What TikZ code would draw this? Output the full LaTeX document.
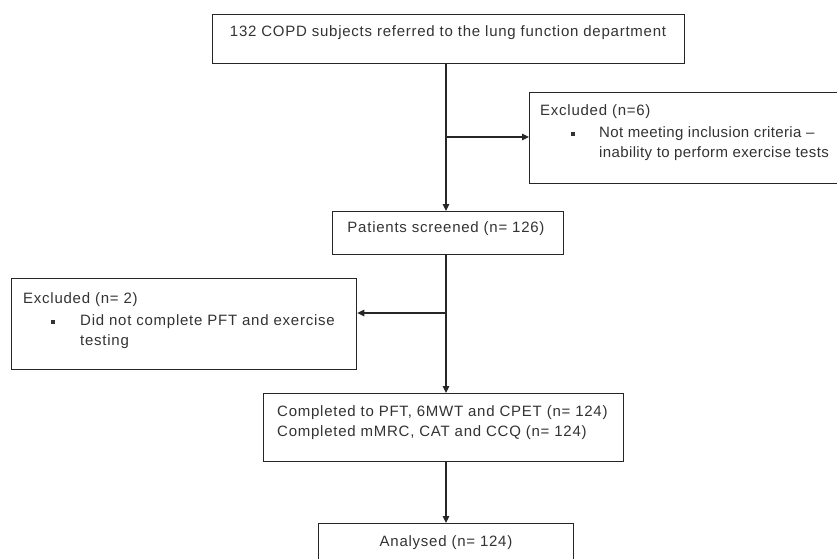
\documentclass[tikz,border=0pt]{standalone}
\usepackage{fontspec}
\setmainfont{Liberation Sans}[LetterSpace=5]
\usetikzlibrary{arrows.meta}
\definecolor{ink}{HTML}{333333}
\definecolor{edge}{HTML}{262626}
\begin{document}
\begin{tikzpicture}[x=1pt,y=-1pt,
  box/.style={draw=edge, line width=1.3pt, inner sep=0pt, anchor=north west, fill=white},
  txt/.style={inner sep=0pt, text=ink, font=\fontsize{15}{20.5}\selectfont, anchor=west},
  multi/.style={txt, align=left},
  sq/.style={fill=ink, minimum size=3.4pt, inner sep=0pt},
  conn/.style={draw=edge, line width=1.1pt},
  arr/.style={conn, -{Triangle[length=7pt,width=6.5pt]}}]
\useasboundingbox (0,0) rectangle (837,558);
\fill[white] (0,0) rectangle (837,558);
\clip (0,0) rectangle (837,558);

% boxes
\node[box, minimum width=472pt, minimum height=49pt] (top) at (212,14) {};
\node[box, minimum width=380pt, minimum height=91pt] (exc1) at (529,92) {};
\node[box, minimum width=231pt, minimum height=43pt] (pat) at (332,211) {};
\node[box, minimum width=345pt, minimum height=91pt] (exc2) at (11,278) {};
\node[box, minimum width=360pt, minimum height=68pt] (comp) at (263,393) {};
\node[box, minimum width=255pt, minimum height=60pt] (ana) at (318,523) {};

% texts
\node[txt, anchor=center] (toptxt) at (448,32.5) {132 COPD subjects referred to the lung function department};

\node[txt] (exc1h) at (540,112) {Excluded (n=6)};
\node[sq] (exc1b) at (573,134) {};
\node[multi, font=\fontsize{15}{20.5}\selectfont\addfontfeature{LetterSpace=2.5}] (exc1t) at (599,143.5) {Not meeting inclusion criteria --\\inability to perform exercise tests};

\node[txt, anchor=center] (pattxt) at (446,229) {Patients screened (n= 126)};

\node[txt] (exc2h) at (23,300) {Excluded (n= 2)};
\node[sq] (exc2b) at (53,322) {};
\node[multi] (exc2t) at (80,331.5) {Did not complete PFT and exercise\\testing};

\node[multi] (comptxt) at (277,422.5) {Completed to PFT, 6MWT and CPET (n= 124)\\Completed mMRC, CAT and CCQ (n= 124)};

\node[txt, anchor=center] (anatxt) at (446,543) {Analysed (n= 124)};

% connectors
\coordinate (j1) at (446,137);
\coordinate (j2) at (446,313);
\draw[conn] (top.south -| j1) -- (j1);
\draw[arr] (j1) -- (pat.north -| j1);
\draw[arr] (j1) -- (exc1.west |- j1);
\draw[conn] (pat.south -| j2) -- (j2);
\draw[arr] (j2) -- (comp.north -| j2);
\draw[arr] (j2) -- (exc2.east |- j2);
\draw[arr] (comp.south -| j2) -- (ana.north -| j2);
\end{tikzpicture}
\end{document}
